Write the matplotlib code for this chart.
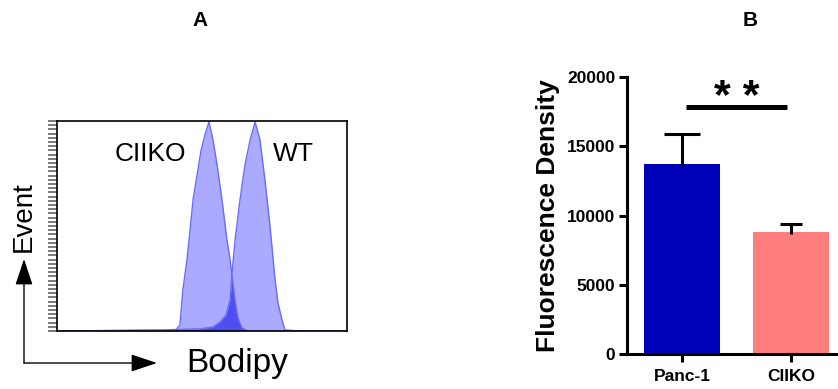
import matplotlib
matplotlib.use("Agg")
import matplotlib.pyplot as plt
from matplotlib.patches import FancyArrowPatch

plt.rcParams['font.family'] = ['Liberation Sans', 'DejaVu Sans']

# panel A: flow histograms (channel 0-1000, % of max events)
ciiko_ch = [0, 321, 407, 424, 434, 448, 459, 469, 483, 497, 510, 524, 538, 552, 569, 586, 597, 603, 614, 624, 638, 659, 1000]
ciiko_ev = [0, 0.3, 0.2, 2.9, 19.5, 33.8, 48.1, 62.4, 74.3, 86.2, 93.3, 99.5, 91, 79, 62.4, 43.3, 33.8, 26.7, 14.8, 6.2, 1.4, 0, 0]
wt_ch = [0, 217, 355, 493, 538, 562, 583, 597, 603, 614, 631, 648, 666, 683, 700, 717, 734, 752, 762, 776, 786, 838, 1000]
wt_ev = [0, 0.3, 0.5, 1, 1.9, 4.3, 7.6, 14.8, 26.7, 43.3, 62.4, 79, 91, 99.5, 91, 71.9, 50.5, 24.3, 13.3, 5.2, 0.5, 0, 0]

# panel B: bars
groups = ['Panc-1', 'CIIKO']
density = [13750, 8800]
density_err = [2150, 600]
bar_colors = ['#0000b8', '#ff7f7f']
cap_half = [0.165, 0.1]

W, H = 838, 389
fig = plt.figure(figsize=(W / 100, H / 100), dpi=100)


def fx(px):
    return px / W


def fy(py):
    return 1 - py / H


# ---- panel A
axA = fig.add_axes([fx(57), fy(331), fx(290), 210 / H])
fill_k = axA.fill_between(ciiko_ch, ciiko_ev, 0, color='#aaaaff', lw=0)
axA.fill_between(wt_ch, wt_ev, 0, color='#aaaaff', lw=0)
overlap = axA.fill_between(wt_ch, wt_ev, 0, color='#4f4ff0', lw=0)
overlap.set_clip_path(fill_k.get_paths()[0], axA.transData)
axA.plot(ciiko_ch, ciiko_ev, color='#6a6aff', lw=1.0)
axA.plot(wt_ch, wt_ev, color='#6a6aff', lw=1.0)
axA.set_xlim(0, 1000)
axA.set_ylim(0, 100)
axA.set_xticks([])
axA.set_yticks(range(0, 101, 2))
axA.tick_params(axis='y', direction='out', length=6.5, width=1.4, color='#7a7a7a', labelleft=False)
for s in axA.spines.values():
    s.set_linewidth(1.2)
axA.text(0.2, 0.81, 'CIIKO', transform=axA.transAxes, fontsize=19, va='baseline')
axA.text(0.743, 0.81, 'WT', transform=axA.transAxes, fontsize=19, va='baseline')

fig.text(fx(24), fy(217), 'Event', rotation=90, fontsize=20, ha='center', va='center')
fig.text(fx(237), fy(372), 'Bodipy', fontsize=24, ha='center', va='baseline')
for end in [(24, 259), (157, 363)]:
    arr = FancyArrowPatch((fx(24), fy(363)), (fx(end[0]), fy(end[1])),
                          transform=fig.transFigure,
                          arrowstyle='-|>,head_length=0.9,head_width=0.3',
                          mutation_scale=18, color='black', lw=1.0,
                          shrinkA=0, shrinkB=0)
    fig.add_artist(arr)

fig.text(fx(200), fy(20), 'A', fontsize=15, fontweight='bold', ha='center', va='center')
fig.text(fx(750), fy(20), 'B', fontsize=15, fontweight='bold', ha='center', va='center')

# ---- panel B
axB = fig.add_axes([fx(627), fy(354), fx(210), 277 / H])
x = [0, 1]
axB.bar(x, density, width=0.7, color=bar_colors)
for i in range(2):
    top = density[i] + density_err[i]
    axB.vlines(x[i], density[i] - 150, top, color='black', lw=2.2)
    axB.hlines(top, x[i] - cap_half[i], x[i] + cap_half[i], color='black', lw=2.2)
axB.set_xlim(-0.505, 1.42)
axB.set_ylim(0, 20000)
axB.set_yticks([0, 5000, 10000, 15000, 20000])
axB.set_xticks(x)
axB.set_xticklabels(groups)
axB.spines['top'].set_visible(False)
axB.spines['right'].set_visible(False)
axB.spines['left'].set_linewidth(2.2)
axB.spines['bottom'].set_linewidth(2.2)
axB.tick_params(axis='both', direction='out', length=5.5, width=2.2, labelsize=12.5, pad=3)
axB.tick_params(axis='x', pad=5)
for lab in axB.get_xticklabels() + axB.get_yticklabels():
    lab.set_fontweight('bold')
axB.set_ylabel('Fluorescence Density', fontsize=19, fontweight='bold', labelpad=5)

axB.plot([0.037, 0.963], [17800, 17800], color='black', lw=3.6, solid_capstyle='butt')
axB.text(0.5, 18500, '* *', fontsize=31, fontweight='bold', ha='center', va='center')

fig.savefig('out.png', dpi=100)
